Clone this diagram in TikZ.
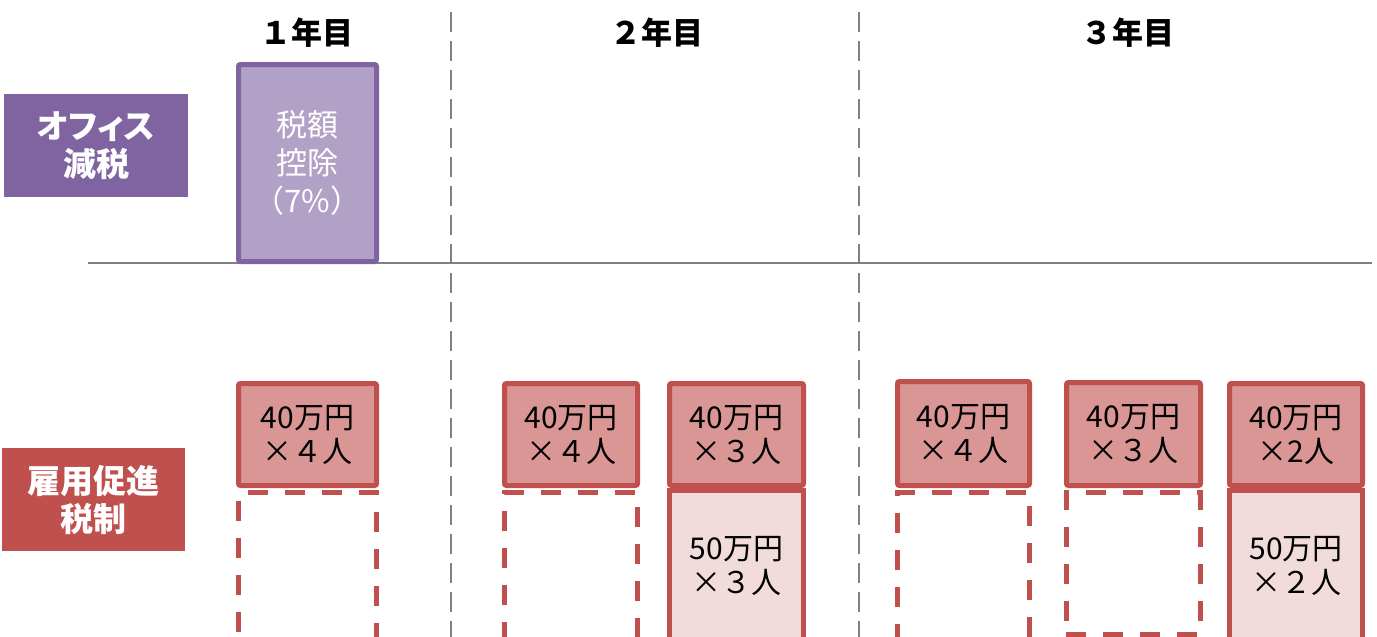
\documentclass[tikz,border=0pt]{standalone}
\usepackage{fontspec}
\newfontfamily\jp{Noto Sans CJK JP}
\newfontfamily\jpp[RawFeature=+palt]{Noto Sans CJK JP}
\definecolor{purpD}{HTML}{8064A2}
\definecolor{purpL}{HTML}{B2A1C7}
\definecolor{redD}{HTML}{C0504D}
\definecolor{redM}{HTML}{D99694}
\definecolor{redL}{HTML}{F2DCDB}
\definecolor{grayL}{HTML}{808080}
\tikzset{
  hdr/.style={font=\jp\bfseries\fontsize{31}{34}\selectfont, text=black, inner sep=0pt},
  lab/.style={text=white, font=\jpp\bfseries\fontsize{33}{38}\selectfont, align=center, inner sep=0pt},
  topbox/.style={draw=redD, line width=5pt, fill=redM, rounded corners=2pt, align=center, inner sep=0pt,
    font=\jp\fontsize{30}{34}\selectfont, text=black},
  lowbox/.style={draw=redD, line width=5pt, fill=redL, align=center, inner sep=0pt,
    font=\jp\fontsize{30}{34}\selectfont, text=black},
  dbox/.style={draw=redD, line width=5pt, dash pattern=on 20pt off 17pt, inner sep=0pt},
  gline/.style={draw=grayL, line width=2.5pt},
  gdash/.style={draw=grayL, line width=2.5pt, dash pattern=on 20pt off 9pt},
}
\begin{document}
\begin{tikzpicture}[x=1pt,y=-1pt]
\useasboundingbox (0,0) rectangle (1377,637);
\clip (0,0) rectangle (1377,637);
\fill[white] (0,0) rectangle (1377,637);
% grid lines
\coordinate (h1) at (88,263);
\coordinate (h2) at (1372,263);
\coordinate (v1t) at (451,12);
\coordinate (v1b) at (451,640);
\coordinate (v2t) at (859,12);
\coordinate (v2b) at (859,640);
\draw[gline] (h1) -- (h2);
\draw[gdash] (v1t) -- (v1b);
\draw[gdash] (v2t) -- (v2b);
% headers
\node[hdr] (y1) at (307,33) {１年目};
\node[hdr] (y2) at (657,33) {２年目};
\node[hdr] (y3) at (1128,33) {３年目};
% labels
\node[lab, fill=purpD, minimum width=184pt, minimum height=103pt] (office) at (96,145.5) {オフィス\\減税};
\node[lab, fill=redD, minimum width=183pt, minimum height=103pt] (koyo) at (93.5,499.5) {雇用促進\\税制};
% office box
\node[draw=purpD, line width=5pt, fill=purpL, rounded corners=2pt, minimum width=138pt, minimum height=197pt,
  align=center, inner sep=0pt, text=white, font=\jp\fontsize{31}{38}\selectfont] (tax) at (307.5,163) {税額\\控除\\（7\%）};
% year 1
\node[dbox, minimum width=138pt, minimum height=160pt, anchor=north] (d1) at (307.5,490) {};
\node[topbox, minimum width=138pt, minimum height=102pt] (t1) at (307.5,434.5) {40万円\\×４人};
% year 2
\node[dbox, minimum width=133pt, minimum height=160pt, anchor=north] (d2) at (571,490) {};
\node[topbox, minimum width=133pt, minimum height=102pt] (t2) at (571,434.5) {40万円\\×４人};
\node[lowbox, minimum width=134pt, minimum height=150pt, anchor=north] (l2) at (736.5,488) {50万円\\×３人};
\node[topbox, minimum width=134pt, minimum height=102pt] (t3) at (736.5,434.5) {40万円\\×３人};
% year 3
\node[dbox, minimum width=132pt, minimum height=160pt, anchor=north] (d3) at (963.5,490) {};
\node[topbox, minimum width=132pt, minimum height=104pt] (t4) at (963.5,433.5) {40万円\\×４人};
\node[dbox, minimum width=134pt, minimum height=142pt, anchor=north] (d4) at (1133,490) {};
\node[topbox, minimum width=134pt, minimum height=103pt] (t5) at (1133.5,434) {40万円\\×３人};
\node[lowbox, minimum width=133pt, minimum height=150pt, anchor=north] (l3) at (1296,488) {50万円\\×２人};
\node[topbox, minimum width=133pt, minimum height=102pt] (t6) at (1296,434.5) {40万円\\×2人};
\end{tikzpicture}
\end{document}
